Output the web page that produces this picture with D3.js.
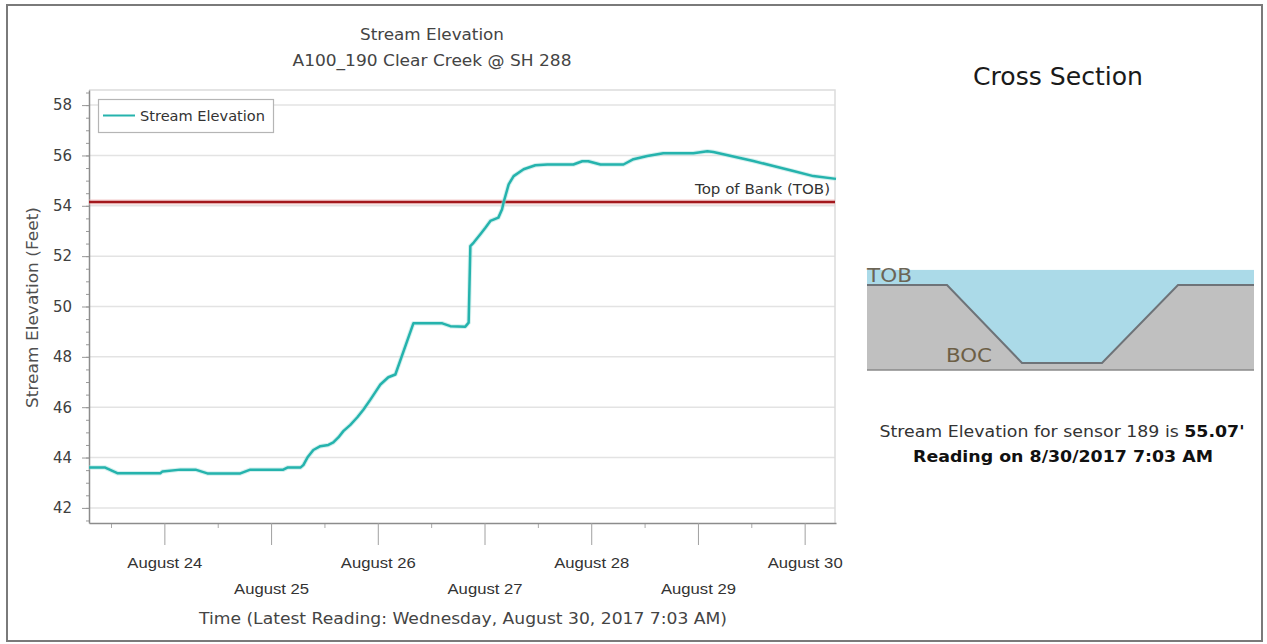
<!DOCTYPE html>
<html>
<head>
<meta charset="utf-8">
<script src="https://cdn.jsdelivr.net/npm/d3@7"></script>
<style>
  html, body { margin: 0; padding: 0; background: #fff; }
  svg { display: block; font-family: "DejaVu Sans", sans-serif; }
</style>
</head>
<body>
<svg id="chart" width="1267" height="644"></svg>
<script>
// ---------------- DATA ----------------
const chartTitle = "Stream Elevation";
const chartSubtitle = "A100_190 Clear Creek @ SH 288";
const yAxisTitle = "Stream Elevation (Feet)";
const xAxisTitle = "Time (Latest Reading: Wednesday, August 30, 2017 7:03 AM)";
const seriesName = "Stream Elevation";
const tobLabel = "Top of Bank (TOB)";
const tobValue = 54.15;

const readingTimes = [
  "2017-08-23 07:03","2017-08-23 10:42","2017-08-23 13:25","2017-08-23 23:05","2017-08-23 23:35",
  "2017-08-24 03:36","2017-08-24 07:00","2017-08-24 09:40","2017-08-24 17:05","2017-08-24 19:20",
  "2017-08-25 02:45","2017-08-25 03:40","2017-08-25 06:35","2017-08-25 07:15","2017-08-25 08:10",
  "2017-08-25 09:30","2017-08-25 11:05","2017-08-25 12:53","2017-08-25 14:00","2017-08-25 15:08",
  "2017-08-25 16:15","2017-08-25 17:50","2017-08-25 19:24","2017-08-25 20:45","2017-08-25 22:20",
  "2017-08-25 23:27","2017-08-26 00:35","2017-08-26 02:22","2017-08-26 03:57","2017-08-26 08:00",
  "2017-08-26 14:31","2017-08-26 16:19","2017-08-26 19:41","2017-08-26 20:26","2017-08-26 20:49",
  "2017-08-26 21:34","2017-08-26 23:04","2017-08-27 00:12","2017-08-27 01:19","2017-08-27 03:07",
  "2017-08-27 03:57","2017-08-27 04:19","2017-08-27 05:26","2017-08-27 06:33","2017-08-27 08:48",
  "2017-08-27 11:26","2017-08-27 14:08","2017-08-27 19:59","2017-08-27 21:59","2017-08-27 23:20",
  "2017-08-28 02:05","2017-08-28 07:15","2017-08-28 09:30","2017-08-28 12:37","2017-08-28 16:13",
  "2017-08-28 22:58","2017-08-29 02:07","2017-08-29 03:28","2017-08-29 07:58","2017-08-29 12:28",
  "2017-08-29 16:58","2017-08-29 21:28","2017-08-30 01:57","2017-08-30 07:03"
];
const elevations = [
  43.60,43.60,43.38,43.38,43.45,
  43.52,43.52,43.37,43.37,43.52,
  43.52,43.60,43.60,43.70,44.00,
  44.30,44.45,44.50,44.60,44.80,
  45.05,45.30,45.60,45.90,46.30,
  46.60,46.90,47.19,47.30,49.33,
  49.33,49.22,49.20,49.36,52.40,
  52.54,52.87,53.13,53.40,53.53,
  53.86,54.15,54.85,55.18,55.45,
  55.61,55.64,55.64,55.77,55.77,
  55.64,55.64,55.85,55.98,56.09,
  56.09,56.17,56.14,55.96,55.78,
  55.58,55.38,55.18,55.07
];
const yTickValues = [42,44,46,48,50,52,54,56,58];
const timeStart = "2017-08-23 07:03";
const timeEnd = "2017-08-30 07:03";

// Cross-section schematic (station, elevation)
const xsTitle = "Cross Section";
const xsStations = [0, 80, 155, 235, 311, 387];
const xsGround = [54.15, 54.15, 49.4, 49.4, 54.15, 54.15];
const xsBase = 48.97;
const xsBOC = 49.4;
const currentReading = 55.07;
const sensorId = 189;
const readingLabel = "Reading on 8/30/2017 7:03 AM";

// ---------------- DRAW ----------------
const parse = d3.timeParse("%Y-%m-%d %H:%M");
const data = readingTimes.map((t, i) => ({ t: parse(t), v: elevations[i] }));

const svg = d3.select("#chart");
function fit(sel, w) { return sel.attr("textLength", w).attr("lengthAdjust", "spacingAndGlyphs"); }

// outer frame
svg.append("rect").attr("x", 7).attr("y", 5).attr("width", 1255).attr("height", 636)
  .attr("fill", "none").attr("stroke", "#7a7a7a").attr("stroke-width", 2);

const L = 89, R = 836, T = 90, B = 523;
const x = d3.scaleTime().domain([parse(timeStart), parse(timeEnd)]).range([L, R]);
const y = d3.scaleLinear().domain([41.4, 58.6]).range([B, T]);

// gridlines
svg.append("g").selectAll("line").data(yTickValues).join("line")
  .attr("x1", L).attr("x2", R - 1).attr("y1", d => y(d)).attr("y2", d => y(d))
  .attr("stroke", "#e3e3e3").attr("stroke-width", 1.5);

// plot frame (top, right)
svg.append("path").attr("d", `M${L},${T}H${R - 1}V${B}`)
  .attr("fill", "none").attr("stroke", "#dcdcdc").attr("stroke-width", 1.5);

// Y axis
const yMinor = d3.range(41.5, 58.51, 0.5);
const yMinorAxis = svg.append("g").attr("transform", `translate(${L},0)`)
  .call(d3.axisLeft(y).tickValues(yMinor).tickSize(3).tickFormat(""));
yMinorAxis.select(".domain").remove();
yMinorAxis.selectAll("line").attr("stroke", "#999");

const yAxis = svg.append("g").attr("transform", `translate(${L},0)`)
  .call(d3.axisLeft(y).tickValues(yTickValues).tickSize(7).tickPadding(10).tickSizeOuter(0).tickFormat(d3.format("d")));
yAxis.select(".domain").attr("stroke", "#8c8c8c").attr("stroke-width", 1.5);
yAxis.selectAll("line").attr("stroke", "#999");
yAxis.selectAll("text").attr("font-size", 15).attr("fill", "#404040")
  .attr("font-family", "DejaVu Sans");

fit(svg.append("text").attr("transform", `translate(33,${(T + B) / 2 + 1}) rotate(-90)`)
  .attr("text-anchor", "middle").attr("dominant-baseline", "central")
  .attr("font-size", 15.5).attr("fill", "#505050").text(yAxisTitle), 201);

// X axis
const days = d3.timeDay.range(d3.timeDay.ceil(x.domain()[0]), x.domain()[1]);
const noons = d3.timeHour.every(12).range(x.domain()[0], x.domain()[1]).filter(d => d.getHours() === 12);

const xMinor = svg.append("g").attr("transform", `translate(0,${B})`)
  .call(d3.axisBottom(x).tickValues(noons).tickSize(5).tickFormat(""));
xMinor.select(".domain").remove();
xMinor.selectAll("line").attr("stroke", "#aaa");

const xAxis = svg.append("g").attr("transform", `translate(0,${B})`)
  .call(d3.axisBottom(x).tickValues(days).tickSize(22).tickSizeOuter(0)
    .tickFormat(d => "August " + d.getDate()));
xAxis.select(".domain").attr("stroke", "#8c8c8c").attr("stroke-width", 1.5);
xAxis.selectAll("line").attr("stroke", "#a0a0a0");
fit(xAxis.selectAll("text").attr("font-size", 15).attr("fill", "#333")
  .attr("dy", null).attr("dominant-baseline", "central")
  .attr("y", d => (d.getDate() % 2 === 0) ? 39 : 65), 75);

fit(svg.append("text").attr("x", 463).attr("y", 618).attr("text-anchor", "middle")
  .attr("dominant-baseline", "central").attr("font-size", 16).attr("fill", "#444")
  .text(xAxisTitle), 528);

// Titles
fit(svg.append("text").attr("x", 432).attr("y", 35).attr("text-anchor", "middle")
  .attr("dominant-baseline", "central").attr("font-size", 15.5).attr("fill", "#444").text(chartTitle), 144);
fit(svg.append("text").attr("x", 432).attr("y", 61).attr("text-anchor", "middle")
  .attr("dominant-baseline", "central").attr("font-size", 15.5).attr("fill", "#444").text(chartSubtitle), 279);

// TOB line
svg.append("line").attr("x1", L).attr("x2", R - 1).attr("y1", y(tobValue)).attr("y2", y(tobValue))
  .attr("stroke", "#f0b8b8").attr("stroke-width", 5.5).attr("opacity", 0.5);
svg.append("line").attr("x1", L).attr("x2", R - 1).attr("y1", y(tobValue)).attr("y2", y(tobValue))
  .attr("stroke", "#a3181d").attr("stroke-width", 2.5);
fit(svg.append("text").attr("x", 830).attr("y", y(tobValue) - 13).attr("text-anchor", "end")
  .attr("dominant-baseline", "central").attr("font-size", 14.5).attr("fill", "#333").text(tobLabel), 135);

// Series line
const line = d3.line().x(d => x(d.t)).y(d => y(d.v));
svg.append("path").datum(data).attr("d", line).attr("fill", "none")
  .attr("stroke", "#a8e2de").attr("stroke-width", 4.5).attr("stroke-linejoin", "round").attr("opacity", 0.5);
svg.append("path").datum(data).attr("d", line).attr("fill", "none")
  .attr("stroke", "#25b3ad").attr("stroke-width", 2.5).attr("stroke-linejoin", "round");

// Legend
svg.append("rect").attr("x", 98.5).attr("y", 99.5).attr("width", 175).attr("height", 33)
  .attr("fill", "#fff").attr("stroke", "#b5b5b5").attr("stroke-width", 1.2);
svg.append("line").attr("x1", 103).attr("x2", 135).attr("y1", 115.5).attr("y2", 115.5)
  .attr("stroke", "#25b3ad").attr("stroke-width", 2);
fit(svg.append("text").attr("x", 140).attr("y", 116).attr("dominant-baseline", "central")
  .attr("font-size", 14).attr("fill", "#333").text(seriesName), 125);

// ---------------- Cross section ----------------
const xsx = d3.scaleLinear().domain([0, 387]).range([867, 1254]);
const xsy = d3.scaleLinear().domain([xsBase, 54.15]).range([370, 285]);

fit(svg.append("text").attr("x", 1058).attr("y", 76).attr("text-anchor", "middle")
  .attr("dominant-baseline", "central").attr("font-size", 24.5).attr("fill", "#1a1a1a").text(xsTitle), 170);

// water
svg.append("rect").attr("x", xsx(0)).attr("y", xsy(currentReading))
  .attr("width", xsx(387) - xsx(0)).attr("height", xsy(xsBOC) - xsy(currentReading))
  .attr("fill", "#abdae8");
// ground
const groundPts = xsStations.map((s, i) => [xsx(s), xsy(xsGround[i])]);
const groundPoly = [[xsx(0), xsy(xsBase)], ...groundPts, [xsx(387), xsy(xsBase)]];
svg.append("path").attr("d", "M" + groundPoly.join("L") + "Z").attr("fill", "#c0c0c0");
svg.append("path").attr("d", "M" + groundPts.join("L")).attr("fill", "none")
  .attr("stroke", "#6e7378").attr("stroke-width", 2);
svg.append("line").attr("x1", xsx(0)).attr("x2", xsx(387)).attr("y1", xsy(xsBase)).attr("y2", xsy(xsBase))
  .attr("stroke", "#8a8a8a").attr("stroke-width", 1.5);

fit(svg.append("text").attr("x", xsx(0)).attr("y", xsy(54.15) - 10).attr("dominant-baseline", "central")
  .attr("font-size", 20).attr("fill", "#6b6556").text("TOB"), 45);
fit(svg.append("text").attr("x", xsx(79)).attr("y", xsy(xsBOC) - 8).attr("dominant-baseline", "central")
  .attr("font-size", 20).attr("fill", "#6d5f46").text("BOC"), 46);

const info = svg.append("text").attr("x", 1062).attr("y", 431).attr("text-anchor", "middle")
  .attr("dominant-baseline", "central").attr("font-size", 16).attr("fill", "#333");
info.append("tspan").text(`Stream Elevation for sensor ${sensorId} is `);
info.append("tspan").attr("font-weight", "bold").attr("fill", "#111").text(d3.format(".2f")(currentReading) + "'");
fit(info, 365);
fit(svg.append("text").attr("x", 1063).attr("y", 456).attr("text-anchor", "middle")
  .attr("dominant-baseline", "central").attr("font-size", 16).attr("font-weight", "bold")
  .attr("fill", "#111").text(readingLabel), 300);
</script>
</body>
</html>
